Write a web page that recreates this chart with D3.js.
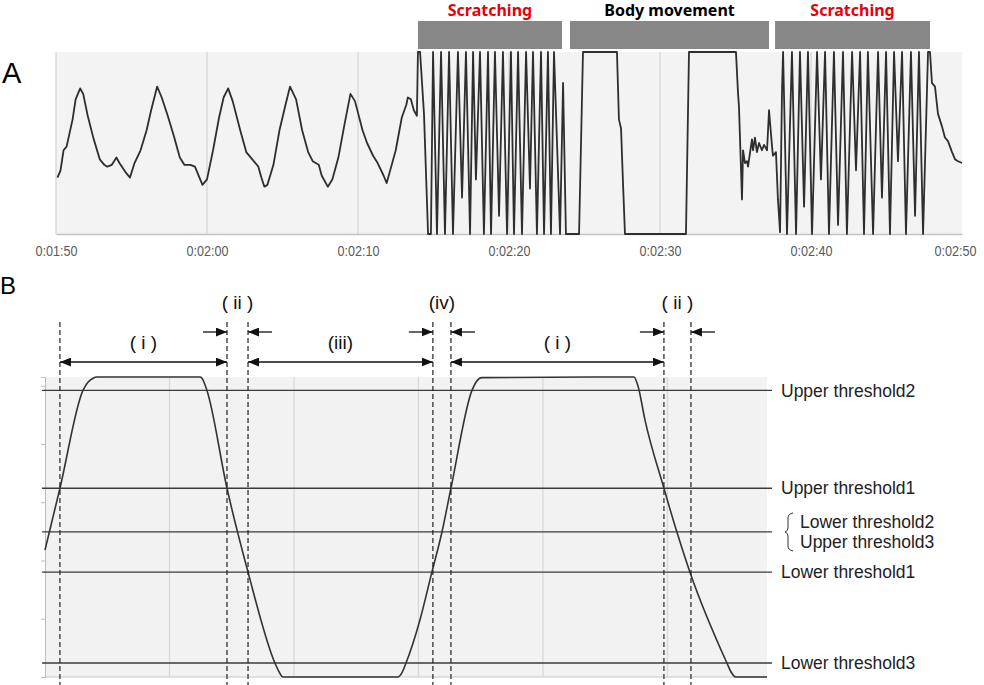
<!DOCTYPE html>
<html>
<head>
<meta charset="utf-8">
<script src="https://cdn.jsdelivr.net/npm/d3@7"></script>
<style>
  body { margin: 0; background: #fff; }
  svg { display: block; font-family: "Liberation Sans", Arial, sans-serif; }
</style>
</head>
<body>
<div id="root"></div>
<script>
// ---------- Panel A data: seconds / normalised sensor output (0 = low clip, 100 = high clip)
const timeA = [
  110.1, 110.3, 110.5, 110.7, 111.1, 111.3, 111.6, 111.8, 112.1, 112.5, 112.9, 113.2, 113.4, 113.7, 114.0, 114.2, 114.6, 114.9,
  115.2, 115.6, 116.0, 116.3, 116.7, 117.0, 117.4, 117.8, 118.2, 118.5, 118.9, 119.2, 119.5, 119.7, 120.0,
  120.4, 120.8, 121.1, 121.4, 121.7, 122.2, 122.6, 123.0, 123.4, 123.6, 123.8, 124.0,
  124.4, 124.8, 125.2, 125.5, 125.9, 126.3, 126.7, 127.0, 127.4, 127.6, 128.0, 128.3,
  128.7, 129.1, 129.5, 129.8, 130.3, 130.6, 131.0, 131.3, 131.7, 131.9, 132.1, 132.5, 132.9, 133.2, 133.3, 133.5, 133.7, 133.9,
  133.97, 134.11, 134.37, 134.64, 134.83, 134.97, 135.23, 135.50, 135.76, 136.03, 136.29, 136.62, 136.89, 137.15, 137.42,
  137.62, 137.81, 138.08, 138.34, 138.61, 138.81, 139.07, 139.34, 139.60, 139.87, 140.13, 140.33, 140.60, 140.86, 141.13,
  141.39, 141.59, 141.85, 142.12, 142.32, 142.58, 142.78, 142.98, 143.38, 143.58, 143.77, 144.64, 144.90,
  147.15, 147.28, 147.42, 147.55, 147.68, 151.72, 151.92, 155.03, 155.17, 155.23, 155.43, 155.50, 155.63, 155.76, 155.83,
  156.09, 156.16, 156.29, 156.42, 156.56, 156.75, 156.89, 157.09, 157.22, 157.42, 157.48, 157.68, 157.81, 157.95, 158.08, 158.15,
  158.41, 158.74, 159.01, 159.27, 159.54, 159.80, 160.07, 160.40, 160.66, 160.93, 161.19, 161.52, 161.79, 162.12, 162.38,
  162.72, 162.98, 163.25, 163.51, 163.77, 164.11, 164.44, 164.70, 164.97, 165.23, 165.50, 165.76, 166.03, 166.29, 166.62,
  166.89, 167.15, 167.42, 167.75, 167.88, 168.01, 168.21, 168.41, 168.68, 168.87, 169.07, 169.34, 169.54, 169.74, 170.00
];
const valueA = [
  31, 35, 46, 48, 63, 74, 80, 77, 65, 52, 41, 38, 37, 38, 42, 39, 34, 31,
  39, 46, 57, 68, 81, 75, 65, 54, 42, 38, 38, 37, 31, 27, 30,
  46, 64, 75, 80, 73, 57, 45, 41, 37, 31, 26, 27,
  38, 57, 71, 81, 74, 57, 45, 40, 38, 32, 26, 30,
  42, 60, 77, 73, 57, 50, 43, 39, 32, 28, 34, 46, 64, 71, 75, 74, 68, 65,
  100, 100, 66, 0, 0, 100, 0, 100, 0, 100, 0, 100, 20, 100, 0,
  100, 30, 100, 0, 100, 0, 100, 10, 100, 0, 100, 0, 100, 0, 100,
  25, 100, 0, 100, 0, 100, 0, 100, 0, 83, 0, 0, 100,
  100, 63, 58, 28, 0, 0, 100, 100, 77, 70, 19, 46, 39, 40, 37,
  52, 46, 53, 45, 50, 46, 49, 46, 68, 48, 43, 45, 19, 1, 79, 100,
  0, 100, 0, 100, 15, 100, 0, 100, 30, 100, 0, 100, 5, 100, 0,
  100, 35, 100, 0, 100, 0, 100, 20, 100, 0, 100, 40, 100, 0, 100,
  10, 100, 0, 100, 100, 83, 81, 66, 59, 53, 51, 45, 41, 40, 39
];
const tickSecondsA = [110, 120, 130, 140, 150, 160, 170];
const tickLabelsA = ["0:01:50", "0:02:00", "0:02:10", "0:02:20", "0:02:30", "0:02:40", "0:02:50"];
const behaviourNames = ["Scratching", "Body movement", "Scratching"];
const behaviourStart = [133.97, 144.04, 157.62];
const behaviourEnd = [143.51, 157.22, 167.88];
const behaviourColors = ["#e8000b", "#000000", "#e8000b"];

// ---------- Panel B data: time units / output units
const timeB = [0, 0.12, 0.305, 0.345, 0.386, 0.418, 1.245, 1.261, 1.301, 1.462, 1.631, 1.847, 1.88, 1.912,
  2.835, 2.867, 2.9, 3.012, 3.108, 3.189, 3.261, 3.43, 3.462, 3.51, 4.731, 4.763, 4.82, 4.972, 5.076, 5.181,
  5.478, 5.51, 5.55, 5.8];
const valueB = [2.18, 3.24, 4.92, 5.06, 5.13, 5.15, 5.15, 5.13, 4.92, 3.24, 1.80, 0.24, 0.09, 0,
  0, 0.07, 0.24, 0.98, 1.80, 2.49, 3.24, 4.92, 5.06, 5.14, 5.15, 5.0, 4.41, 3.24, 2.49, 1.80,
  0.24, 0.09, 0, 0];
const thresholdValues = [4.92, 3.24, 2.49, 1.80, 0.24];
const thresholdNames = ["Upper threshold2", "Upper threshold1", "", "Lower threshold1", "Lower threshold3"];
const pairedNames = ["Lower threshold2", "Upper threshold3"];
const boundaries = [0.12, 1.462, 1.631, 3.116, 3.261, 4.972, 5.189];
const intervalLabels = ["( i )", "(iii)", "( i )"];
const intervalStart = [0.12, 1.631, 3.261];
const intervalEnd = [1.462, 3.116, 4.972];
const gapLabels = ["( ii )", "(iv)", "( ii )"];
const gapStart = [1.462, 3.116, 4.972];
const gapEnd = [1.631, 3.261, 5.189];

const svg = d3.select("#root").append("svg").attr("width", 984).attr("height", 685);

// ====================== Panel A ======================
const xA = d3.scaleLinear().domain([110, 170]).range([56, 962]);
const yA = d3.scaleLinear().domain([0, 100]).range([234, 52]);

svg.append("text").attr("x", 2).attr("y", 83).attr("font-size", 29).text("A");

svg.append("rect")
  .attr("x", xA(110)).attr("y", yA(100))
  .attr("width", xA(170) - xA(110)).attr("height", yA(0) - yA(100))
  .attr("fill", "#f3f3f3");

svg.append("g")
  .selectAll("line")
  .data(tickSecondsA.slice(0, -1))
  .join("line")
  .attr("x1", (d) => xA(d)).attr("x2", (d) => xA(d))
  .attr("y1", yA(100)).attr("y2", yA(0))
  .attr("stroke", "#d5d5d5").attr("stroke-width", 1.2);

const xAxisA = d3.axisBottom(xA)
  .tickValues(tickSecondsA)
  .tickFormat((d, i) => tickLabelsA[i])
  .tickSize(0)
  .tickPadding(12);

// labels in the reference are set in a narrow face, so squeeze them to width
svg.append("g")
  .attr("transform", `translate(0,${yA(0)})`)
  .call(xAxisA)
  .call((g) => g.select(".domain").attr("stroke", "#c4c4c4").attr("stroke-width", 1.5))
  .call((g) => g.selectAll("text")
    .attr("font-size", 14).attr("fill", "#5a5a5a")
    .attr("textLength", 42).attr("lengthAdjust", "spacingAndGlyphs"))
  .call((g) => g.selectAll(".tick:last-of-type text")
    .attr("text-anchor", "end").attr("dx", 14));

// behaviour bars
svg.append("g")
  .selectAll("rect")
  .data(behaviourNames)
  .join("rect")
  .attr("x", (d, i) => xA(behaviourStart[i]))
  .attr("y", 21)
  .attr("width", (d, i) => xA(behaviourEnd[i]) - xA(behaviourStart[i]))
  .attr("height", 28)
  .attr("fill", "#878787");

svg.append("g")
  .selectAll("text")
  .data(behaviourNames)
  .join("text")
  .attr("x", (d, i) => (xA(behaviourStart[i]) + xA(behaviourEnd[i])) / 2)
  .attr("y", 16)
  .attr("text-anchor", "middle")
  .attr("font-family", "'Noto Sans', sans-serif")
  .attr("font-weight", "bold")
  .attr("font-size", 16)
  .attr("fill", (d, i) => behaviourColors[i])
  .text((d) => d);

const lineA = d3.line().x((d) => xA(d)).y((d, i) => yA(valueA[i]));
svg.append("path")
  .datum(timeA)
  .attr("d", lineA)
  .attr("fill", "none")
  .attr("stroke", "#2e2e2e")
  .attr("stroke-width", 1.8)
  .attr("stroke-linejoin", "round");

// ====================== Panel B ======================
const xB = d3.scaleLinear().domain([0, 5.8]).range([45, 767]);
const yB = d3.scaleLinear().domain([0, 5.15]).range([677, 377]);

svg.append("text").attr("x", 0).attr("y", 294).attr("font-size", 24).text("B");

svg.append("rect")
  .attr("x", xB(0)).attr("y", yB(5.15))
  .attr("width", xB(5.8) - xB(0)).attr("height", yB(0) - yB(5.15))
  .attr("fill", "#f2f2f2");

svg.append("g")
  .selectAll("line")
  .data([1, 2, 3, 4, 5])
  .join("line")
  .attr("x1", (d) => xB(d)).attr("x2", (d) => xB(d))
  .attr("y1", yB(5.15)).attr("y2", yB(0))
  .attr("stroke", "#d6d6d6").attr("stroke-width", 1.2);

svg.append("g")
  .attr("transform", `translate(${xB(0)},0)`)
  .call(d3.axisLeft(yB).tickValues([1, 2, 3, 4, 5]).tickSize(4).tickFormat(""))
  .call((g) => g.selectAll("line, path").attr("stroke", "#bdbdbd"));

svg.append("line")
  .attr("x1", xB(0)).attr("x2", xB(5.8))
  .attr("y1", yB(0)).attr("y2", yB(0))
  .attr("stroke", "#c8c8c8");

// thresholds
svg.append("g")
  .selectAll("line")
  .data(thresholdValues)
  .join("line")
  .attr("x1", xB(0) - 3).attr("x2", xB(5.8) + 5)
  .attr("y1", (d) => yB(d)).attr("y2", (d) => yB(d))
  .attr("stroke", "#3a3a3a").attr("stroke-width", 1.3);

svg.append("g")
  .selectAll("text")
  .data(thresholdValues)
  .join("text")
  .attr("x", 781)
  .attr("y", (d) => yB(d))
  .attr("dy", "0.35em")
  .attr("font-size", 17.5)
  .attr("fill", "#222")
  .text((d, i) => thresholdNames[i]);

const pairY = yB(thresholdValues[2]);
svg.append("g")
  .selectAll("text")
  .data(pairedNames)
  .join("text")
  .attr("x", 800)
  .attr("y", (d, i) => pairY - 10 + i * 20)
  .attr("dy", "0.35em")
  .attr("font-size", 17.5)
  .attr("fill", "#222")
  .text((d) => d);

svg.append("path")
  .attr("d", `M793,${pairY - 19} Q788,${pairY - 18} 788,${pairY - 14} L788,${pairY - 4} Q788,${pairY - 1} 785,${pairY} Q788,${pairY + 1} 788,${pairY + 4} L788,${pairY + 14} Q788,${pairY + 18} 793,${pairY + 19}`)
  .attr("fill", "none").attr("stroke", "#333").attr("stroke-width", 1);

// signal
const lineB = d3.line().x((d) => xB(d)).y((d, i) => yB(valueB[i])).curve(d3.curveMonotoneX);
svg.append("path")
  .datum(timeB)
  .attr("d", lineB)
  .attr("fill", "none")
  .attr("stroke", "#333")
  .attr("stroke-width", 1.6);

// dashed boundaries
svg.append("g")
  .selectAll("line")
  .data(boundaries)
  .join("line")
  .attr("x1", (d) => xB(d)).attr("x2", (d) => xB(d))
  .attr("y1", 322).attr("y2", 685)
  .attr("stroke", "#222").attr("stroke-width", 1.2)
  .attr("stroke-dasharray", "5,3");

// arrowheads
const defs = svg.append("defs");
defs.append("marker")
  .attr("id", "head")
  .attr("viewBox", "0 0 10 8")
  .attr("refX", 10).attr("refY", 4)
  .attr("markerWidth", 11).attr("markerHeight", 9)
  .attr("markerUnits", "userSpaceOnUse")
  .attr("orient", "auto-start-reverse")
  .append("path").attr("d", "M0,0 L10,4 L0,8 Z").attr("fill", "#111");

svg.append("g")
  .selectAll("line")
  .data(intervalLabels)
  .join("line")
  .attr("x1", (d, i) => xB(intervalStart[i])).attr("x2", (d, i) => xB(intervalEnd[i]))
  .attr("y1", 362).attr("y2", 362)
  .attr("stroke", "#111").attr("stroke-width", 1.3)
  .attr("marker-start", "url(#head)").attr("marker-end", "url(#head)");

svg.append("g")
  .selectAll("text")
  .data(intervalLabels)
  .join("text")
  .attr("x", (d, i) => (xB(intervalStart[i]) + xB(intervalEnd[i])) / 2)
  .attr("y", 342).attr("dy", "0.35em")
  .attr("text-anchor", "middle").attr("font-size", 19).attr("fill", "#111")
  .text((d) => d);

const gapG = svg.append("g");
gapG.selectAll("line.in-l")
  .data(gapLabels)
  .join("line")
  .attr("class", "in-l")
  .attr("x1", (d, i) => xB(gapStart[i]) - 24).attr("x2", (d, i) => xB(gapStart[i]))
  .attr("y1", 332).attr("y2", 332)
  .attr("stroke", "#111").attr("stroke-width", 1.3)
  .attr("marker-end", "url(#head)");
gapG.selectAll("line.in-r")
  .data(gapLabels)
  .join("line")
  .attr("class", "in-r")
  .attr("x1", (d, i) => xB(gapEnd[i]) + 24).attr("x2", (d, i) => xB(gapEnd[i]))
  .attr("y1", 332).attr("y2", 332)
  .attr("stroke", "#111").attr("stroke-width", 1.3)
  .attr("marker-end", "url(#head)");
gapG.selectAll("text")
  .data(gapLabels)
  .join("text")
  .attr("x", (d, i) => (xB(gapStart[i]) + xB(gapEnd[i])) / 2)
  .attr("y", 302).attr("dy", "0.35em")
  .attr("text-anchor", "middle").attr("font-size", 19).attr("fill", "#111")
  .text((d) => d);
</script>
</body>
</html>
